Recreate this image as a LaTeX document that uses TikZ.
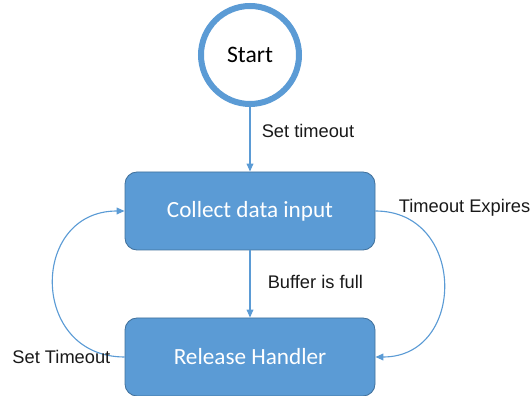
\documentclass[tikz,border=0pt]{standalone}
\usepackage{fontspec}
\setmainfont{Liberation Sans}
\newfontfamily\calfont{Carlito}
\usetikzlibrary{positioning,arrows.meta}
\definecolor{hdlblue}{HTML}{5B9BD5}
\definecolor{hdledge}{HTML}{41719C}

\begin{document}
\begin{tikzpicture}[
  hdlstart/.style = {circle, draw=hdlblue, fill=white, line width=0.15cm,
                     minimum size=2.45cm, inner sep=0pt,
                     font=\calfont\fontsize{16.8}{20}\selectfont},
  hdlstate/.style = {rectangle, rounded corners=0.3cm, fill=hdlblue,
                     draw=hdledge, line width=0.6pt, text=white,
                     minimum width=6.25cm, minimum height=1.95cm,
                     font=\calfont\fontsize{16.5}{20}\selectfont},
  hdlflow/.style  = {hdlblue, line width=0.8pt,
                     -{Triangle[length=0.2cm, width=0.17cm]}},
  hdllbl/.style   = {inner sep=0pt, text=black!90,
                     font=\fontsize{13}{15}\selectfont}
]
  \useasboundingbox (0,0) rectangle (13.3,9.9);
  % states
  \node[hdlstart] (start) at (6.25,8.525) {\raisebox{-0.06cm}{Start}};
  \node[hdlstate] (collect) at (6.25,4.625) {Collect data input};
  \node[hdlstate] (release) at (6.25,0.975) {Release Handler};
  % straight transitions
  \draw[hdlflow] (start) -- (collect)
    node[hdllbl, anchor=west, pos=0.37, xshift=0.28cm] (settimeout) {Set timeout};
  \draw[hdlflow] (collect) -- (release)
    node[hdllbl, anchor=west, pos=0.47, xshift=0.43cm] (bufferfull) {Buffer is full};
  % loops between the two states
  \draw[hdlflow] (collect.east) to[out=0, in=0, looseness=1.6] (release.east);
  \node[hdllbl, right=0.58cm of collect.east, yshift=0.08cm] (expires) {Timeout Expires};
  \draw[hdlflow] (release.west) to[out=180, in=180, looseness=1.67] (collect.west);
  \node[hdllbl, left=0.35cm of release.west] (settimeout2) {Set Timeout};
\end{tikzpicture}
\end{document}
